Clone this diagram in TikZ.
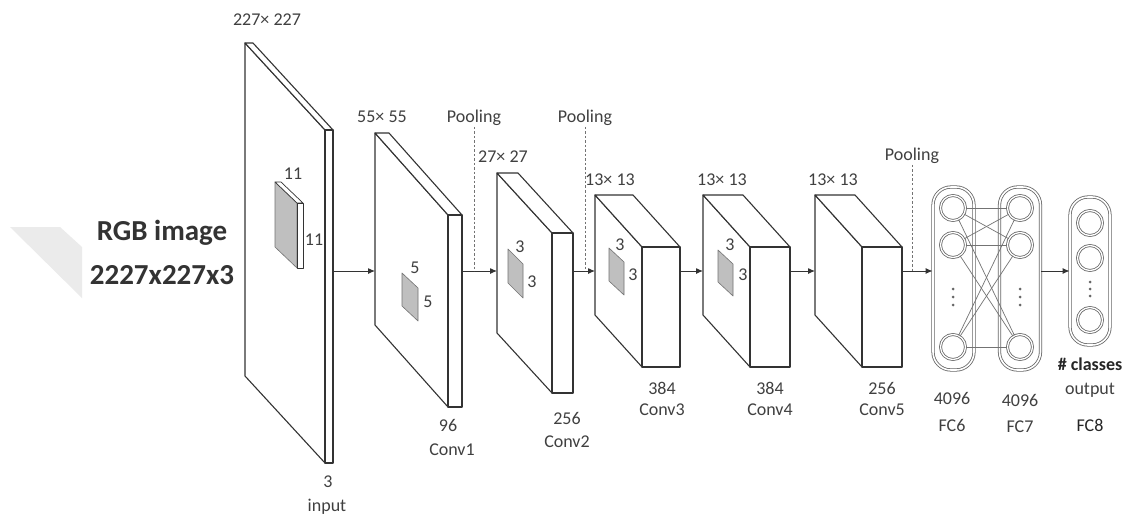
\documentclass[tikz,border=0pt]{standalone}
\usepackage{fontspec}
\setmainfont{Carlito}
\usetikzlibrary{arrows.meta}
\tikzset{
 boxline/.style={draw=black!80, line width=1.1pt, fill=white, line join=round},
 lab/.style={text=black!75, font=\fontsize{18}{21}\selectfont, inner sep=1pt},
 kern/.style={fill=black!25, draw=black!55, line width=0.6pt, line join=round},
 arr/.style={draw=black!80, line width=1pt, -{Latex[length=7pt,width=6pt]}},
 pool/.style={draw=black!55, line width=0.8pt, dash pattern=on 2.5pt off 2pt},
 neuron/.style={circle, minimum size=25pt, inner sep=0pt, draw=black!60, double=white, double distance=1.3pt, line width=0.8pt},
 fcbox/.style={draw=black!60, double=white, double distance=1.6pt, line width=0.8pt, rounded corners=18pt, inner sep=0pt},
 link/.style={draw=black!55, line width=0.7pt},
 dotty/.style={circle, fill=black!60, inner sep=0pt, minimum size=3pt},
}
\newcommand\layerbox[7]{%
 \path[boxline] (#2,#4) -- ({#2-#6},{#4-#7}) -- ({#2-#6},{#5-#7}) -- (#2,#5) -- cycle;
 \path[boxline] (#2,#4) -- ({#2-#6},{#4-#7}) -- ({#3-#6},{#4-#7}) -- (#3,#4) -- cycle;
 \path[boxline] (#2,#4) -- (#3,#4) -- (#3,#5) -- (#2,#5) -- cycle;
 \coordinate (#1-out) at (#3,271);
 \coordinate (#1-in) at ({#2-#6},271);
}
\begin{document}
\begin{tikzpicture}[x=1pt,y=-1pt]
\useasboundingbox[fill=white] (0,0) rectangle (1130,517);
% RGB chevron and text
\fill[black!8] (10,227) -- (60,227) -- (82,247) -- (82,298) -- cycle;
\node[text=black!80, font=\fontsize{29}{34}\selectfont\bfseries, inner sep=0pt] (rgb1) at (162,233) {RGB image};
\node[text=black!80, font=\fontsize{29}{34}\selectfont\bfseries, inner sep=0pt] (rgb2) at (162,275) {2227x227x3};
% input
\layerbox{in}{325}{333}{130}{463}{80}{87}
\path[kern] (297,203) -- (275,182) -- (275,247) -- (297,268) -- cycle;
\path[boxline, line width=0.7pt] (297,203) -- (275,182) -- (281,182) -- (303,203) -- cycle;
\path[boxline, line width=0.7pt] (297,203) -- (303,203) -- (303,268) -- (297,268) -- cycle;
\node[lab] (k11a) at (293,174) {11};
\node[lab] (k11b) at (314,240) {11};
\node[lab] (insz) at (267,20) {227× 227};
\node[lab] (in3) at (328,482) {3};
\node[lab] (inlab) at (327,507) {input};
% conv1
\layerbox{c1}{448}{462}{215}{407}{73}{82}
\path[kern] (402,273) -- (418,288) -- (418,321) -- (402,306) -- cycle;
\node[lab] (c1k1) at (415,268) {5};
\node[lab] (c1k2) at (428,302) {5};
\node[lab] (c1sz) at (382,117) {55× 55};
\node[lab] (c1n) at (448,425) {96};
\node[lab] (c1l) at (452,450) {Conv1};
% conv2
\layerbox{c2}{552}{573}{233}{393}{55}{60}
\path[kern] (508,249) -- (523,264) -- (523,298) -- (508,283) -- cycle;
\node[lab] (c2k1) at (520,247) {3};
\node[lab] (c2k2) at (532,282) {3};
\node[lab] (c2sz) at (503,157) {27× 27};
\node[lab] (c2n) at (567,418) {256};
\node[lab] (c2l) at (567,442) {Conv2};
% conv3
\layerbox{c3}{642}{680}{247}{367}{47}{52}
\path[kern] (609,248) -- (624,262) -- (624,295) -- (609,281) -- cycle;
\node[lab] (c3k1) at (620,245) {3};
\node[lab] (c3k2) at (633,275) {3};
\node[lab] (c3sz) at (610,180) {13× 13};
\node[lab] (c3n) at (662,388) {384};
\node[lab] (c3l) at (662,410) {Conv3};
% conv4
\layerbox{c4}{750}{790}{247}{367}{47}{52}
\path[kern] (718,250) -- (733,264) -- (733,296) -- (718,282) -- cycle;
\node[lab] (c4k1) at (730,245) {3};
\node[lab] (c4k2) at (743,275) {3};
\node[lab] (c4sz) at (722,180) {13× 13};
\node[lab] (c4n) at (770,388) {384};
\node[lab] (c4l) at (770,410) {Conv4};
% conv5
\layerbox{c5}{862}{902}{247}{367}{47}{52}
\node[lab] (c5sz) at (833,180) {13× 13};
\node[lab] (c5n) at (882,388) {256};
\node[lab] (c5l) at (882,410) {Conv5};
% FC layers
\node[fcbox, minimum width=41pt, minimum height=183pt] (fc6) at (953.5,278.5) {};
\node[fcbox, minimum width=41pt, minimum height=183pt] (fc7) at (1020,278.5) {};
\node[fcbox, minimum width=40pt, minimum height=148pt] (fc8) at (1090,271) {};
\foreach \n/\x in {6/953,7/1020}{
 \node[neuron] (f\n a) at (\x,208) {};
 \node[neuron] (f\n b) at (\x,245) {};
 \node[neuron] (f\n c) at (\x,347) {};
 \foreach \y [count=\i] in {289,297,305} \node[dotty] (f\n d\i) at (\x,\y) {};
}
\node[neuron] (f8a) at (1090,223) {};
\node[neuron] (f8b) at (1090,258) {};
\node[neuron] (f8c) at (1090,320) {};
\foreach \y [count=\i] in {282,289,296} \node[dotty] (f8d\i) at (1090,\y) {};
\foreach \i in {a,b,c}{\foreach \j in {a,b,c}{\draw[link] (f6\i) -- (f7\j);}}
\node[lab] (fc6n) at (952,398) {4096};
\node[lab] (fc6l) at (952,425) {FC6};
\node[lab] (fc7n) at (1020,400) {4096};
\node[lab] (fc7l) at (1020,427) {FC7};
\node[lab, text=black!85, font=\fontsize{18}{21}\selectfont\bfseries] (fc8c) at (1090,364) {\# classes};
\node[lab] (fc8o) at (1090,390) {output};
\node[lab, text=black!85] (fc8l) at (1090,425) {FC8};
% connectors
\draw[arr] (in-out) -- (c1-in);
\draw[arr] (c1-out) -- (c2-in);
\draw[arr] (c2-out) -- (c3-in);
\draw[arr] (c3-out) -- (c4-in);
\draw[arr] (c4-out) -- (c5-in);
\draw[arr] (c5-out) -- (c5-out -| fc6.west);
\draw[arr] (fc7.east |- c5-out) -- (fc8.west |- c5-out);
% pooling
\node[lab] (p1) at (474,118) {Pooling};
\node[lab] (p2) at (585,118) {Pooling};
\node[lab] (p3) at (912,156) {Pooling};
\coordinate (p1b) at (474,271);
\coordinate (p2b) at (585,271);
\coordinate (p3b) at (912,271);
\draw[pool] (p1.south) -- (p1b);
\draw[pool] (p2.south) -- (p2b);
\draw[pool] (p3.south) -- (p3b);
\end{tikzpicture}
\end{document}
